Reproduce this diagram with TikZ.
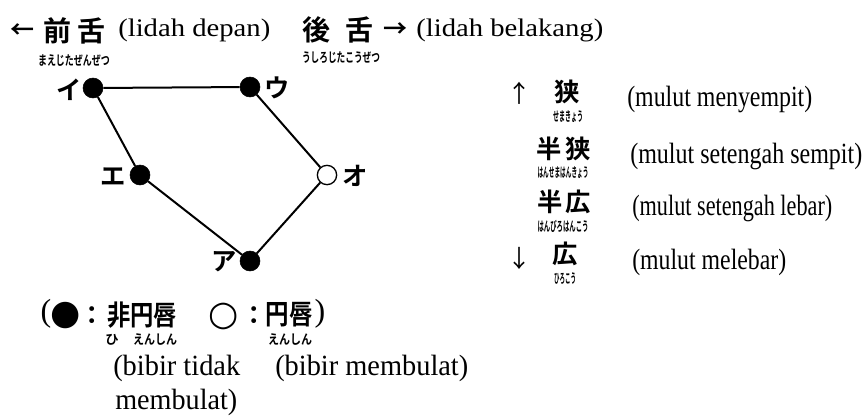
\documentclass[tikz,border=0pt]{standalone}
\usepackage{fontspec}
\usepackage{graphicx}
\setmainfont{Liberation Serif}
\newfontfamily\jp{Noto Sans CJK JP}[BoldFont={* Bold}]
\newfontfamily\dv{DejaVu Sans}
\newlength\pxu \setlength\pxu{0.75pt}
\newcommand\fitw[2]{\resizebox{#1\pxu}{\height}{#2}}
\tikzset{
  dotf/.style={circle, fill=black, draw=black, minimum size=15pt, inner sep=0pt},
  doto/.style={circle, fill=white, draw=black, line width=1pt, minimum size=14.5pt, inner sep=0pt},
  vedge/.style={line width=1.5pt},
  kana/.style={font=\jp\bfseries\fontsize{19}{19}\selectfont, inner sep=0pt},
  kanji/.style={font=\jp\bfseries\fontsize{21}{21}\selectfont, inner sep=0pt},
  rkanji/.style={font=\jp\bfseries\fontsize{19}{19}\selectfont, inner sep=0pt},
  furi/.style={font=\jp\bfseries\fontsize{10}{10}\selectfont, inner sep=0pt},
  arr/.style={font=\jp\fontsize{18}{18}\selectfont, inner sep=0pt},
  idtop/.style={font=\fontsize{19}{19}\selectfont, inner sep=0pt, anchor=west},
  idright/.style={font=\fontsize{22}{22}\selectfont, inner sep=0pt, anchor=west},
  idbot/.style={font=\fontsize{22}{22}\selectfont, inner sep=0pt, anchor=west},
  sym/.style={font=\dv\fontsize{26}{26}\selectfont, inner sep=0pt},
  colon/.style={font=\jp\bfseries\fontsize{19}{19}\selectfont, inner sep=0pt},
}
\begin{document}
\begin{tikzpicture}[x=0.75pt, y=-0.75pt]
\useasboundingbox (0,0) rectangle (867,418);
% ---- top row
\node[arr, font=\jp\bfseries\fontsize{18}{18}\selectfont] (larr) at (23,31) {←};
\node[kanji] (mae) at (57,31) {前};
\node[kanji] (shita1) at (91,31) {舌};
\node[furi] (fmae) at (74,61) {\fitw{72}{まえじたぜんぜつ}};
\node[idtop] (depan) at (118,30) {\fitw{152}{(lidah depan)}};
\node[kanji] (ushiro) at (316,30) {後};
\node[kanji] (shita2) at (359,30) {舌};
\node[furi] (fushiro) at (341,58) {\fitw{78}{うしろじたこうぜつ}};
\node[arr, font=\jp\bfseries\fontsize{18}{18}\selectfont] (rarr) at (395,30) {→};
\node[idtop] (belakang) at (416,30) {\fitw{187}{(lidah belakang)}};
% ---- vowel chart
\node[dotf] (i) at (93,88) {};
\node[dotf] (u) at (250,87) {};
\node[dotf] (e) at (140,175) {};
\node[doto] (o) at (327,175) {};
\node[dotf] (a) at (250,261) {};
\node[kana] (li) at (69,90) {イ};
\node[kana] (lu) at (277,88) {ウ};
\node[kana] (le) at (113,177) {エ};
\node[kana] (lo) at (355,176) {オ};
\node[kana] (la) at (224,262) {ア};
\draw[vedge] (i) -- (u);
\draw[vedge] (i) -- (e);
\draw[vedge] (e) -- (a);
\draw[vedge] (a) -- (o);
\draw[vedge] (o) -- (u);
% ---- right column
\node[arr] (uarr) at (519,93) {↑};
\node[rkanji] (sema) at (567,92) {狭};
\node[furi] (fsema) at (568,117) {\fitw{30}{せまきょう}};
\node[idright] (m1) at (627,99) {\fitw{185}{(mulut menyempit)}};
\node[rkanji] (han1) at (549,149) {半};
\node[rkanji] (sema2) at (578,149) {狭};
\node[furi] (fhan1) at (563,173) {\fitw{51}{はんせまはんきょう}};
\node[idright] (m2) at (630,156) {\fitw{232}{(mulut setengah sempit)}};
\node[rkanji] (han2) at (550,202) {半};
\node[rkanji] (hiro2) at (578,202) {広};
\node[furi] (fhan2) at (563,226) {\fitw{51}{はんびろはんこう}};
\node[idright] (m3) at (632,208) {\fitw{200}{(mulut setengah lebar)}};
\node[arr] (darr) at (519,258) {↓};
\node[rkanji] (hiro) at (565,254) {広};
\node[furi] (fhiro) at (565,279) {\fitw{22}{ひろこう}};
\node[idright] (m4) at (632,262) {\fitw{154}{(mulut melebar)}};
% ---- legend
\node[font=\fontsize{24}{24}\selectfont, inner sep=0pt] (lp) at (46,314) {(};
\node[sym] (bk) at (66,316) {●};
\node[colon] (c1) at (92,316) {：};
\node[kanji] (hen) at (142,315) {\fitw{70}{非円唇}};
\node[sym] (wh) at (224,316) {○};
\node[colon] (c2) at (254,316) {：};
\node[kanji] (en) at (289,315) {\fitw{47}{円唇}};
\node[font=\fontsize{24}{24}\selectfont, inner sep=0pt] (rp) at (320,314) {)};
\node[furi] (fh) at (112,340) {ひ};
\node[furi] (fe1) at (155,340) {\fitw{44}{えんしん}};
\node[furi] (fe2) at (290,340) {\fitw{44}{えんしん}};
\node[idbot] (b1) at (113,368) {\fitw{127}{(bibir tidak}};
\node[idbot] (b2) at (275,368) {\fitw{193}{(bibir membulat)}};
\node[idbot] (b3) at (115,402) {\fitw{122}{membulat)}};
\end{tikzpicture}
\end{document}
